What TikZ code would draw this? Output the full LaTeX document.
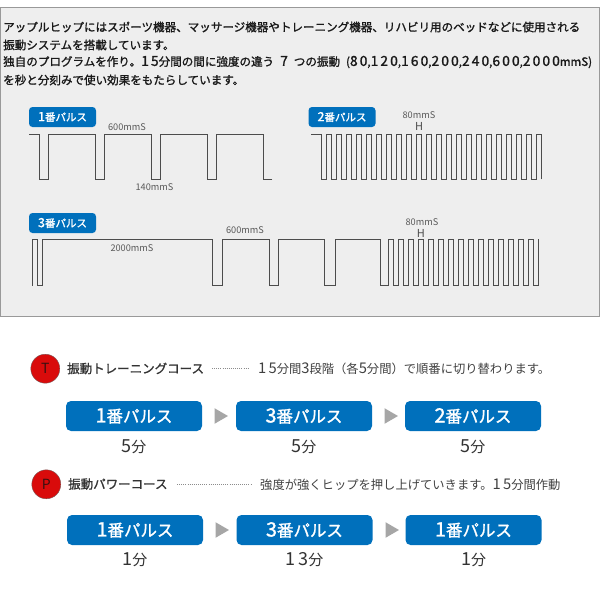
\documentclass[tikz,border=0pt]{standalone}
\usepackage{fontspec}
\setmainfont{Noto Sans CJK JP}
\newfontfamily\introfont[FakeBold=1.3]{Noto Sans CJK JP}
\makeatletter
\newcommand{\dg}[1]{{\fontsize{\strip@pt\dimexpr1.2\dimexpr\f@size pt\relax\relax}{\baselineskip}\selectfont\addfontfeature{LetterSpace=15}#1}}
\makeatother
\usetikzlibrary{positioning}
\usetikzlibrary{shapes.geometric}
\definecolor{panelgray}{HTML}{EEEEEE}
\definecolor{pulseblue}{HTML}{0070BC}
\definecolor{courseblk}{HTML}{333333}
\definecolor{badgered}{HTML}{D90B0B}
\definecolor{badgeink}{HTML}{3A1010}
\begin{document}
\begin{tikzpicture}[
        x=1pt, y=-1pt,
        panel/.style={draw=black!40, line width=1pt, fill=panelgray},
        wave/.style={draw=black!70, line width=0.9pt, line cap=rect},
        tagbox/.style={rectangle, rounded corners=3.5pt, fill=pulseblue, text=white, minimum width=67pt, minimum height=20pt, inner sep=0pt, font=\fontsize{10.5}{12}\selectfont\introfont},
        pulsebox/.style={rectangle, rounded corners=5pt, fill=pulseblue, text=white, minimum width=136pt, minimum height=30pt, inner sep=0pt, font=\fontsize{16.5}{18}\selectfont\introfont},
        mintext/.style={text=courseblk, inner sep=0pt, font=\fontsize{15}{17}\selectfont},
        nextmark/.style={regular polygon, regular polygon sides=3, shape border rotate=-90, fill=black!35, minimum size=18pt, inner sep=0pt},
        intro/.style={anchor=west, inner sep=0pt, text=black!90, font=\fontsize{11.55}{13}\selectfont\introfont},
        timing/.style={text=black!65, inner sep=0pt, font=\fontsize{9.2}{11}\selectfont},
        hmark/.style={text=black!70, inner sep=0pt, font=\fontsize{11}{13}\selectfont},
        badge/.style={circle, draw=badgeink!70, fill=badgered, text=badgeink, minimum size=29pt, inner sep=0pt, font=\fontsize{14}{16}\selectfont},
        coursename/.style={anchor=west, inner sep=0pt, text=courseblk, font=\fontsize{12.5}{14}\selectfont\introfont},
        coursenote/.style={anchor=west, inner sep=0pt, text=black!75, font=\fontsize{12.3}{14}\selectfont},
        leader/.style={draw=black!45, line width=0.8pt, dash pattern=on 0.9pt off 1.2pt},
        ]
    \useasboundingbox (0,0) rectangle (600,600);
    \draw[panel] (0.5,7) rectangle (599.5,316);

    \node[intro] (line1) at (3,27) {アップルヒップにはスポーツ機器、マッサージ機器やトレーニング機器、リハビリ用のベッドなどに使用される};
    \node[intro] (line2) at (3,45) {振動システムを搭載しています。};
    \node[intro] (line3) at (3,62) {独自のプログラムを作り。\dg{15}分間の間に強度の違う\kern6pt\dg{7}\kern6pt つの振動\kern6pt(\dg{80},\dg{120},\dg{160},\dg{200},\dg{240},\dg{600},\dg{2000}mmS)};
    \node[intro] (line4) at (3,80) {を秒と分刻みで使い効果をもたらしています。};

    % 1番パルス
    \node[tagbox] (tag1) at (62.5,117) {\dg{1}番パルス};
    \draw[wave] (29,134) -- (39,134) -- (39,179) -- (48,179) -- (48,134)
        -- (95,134) -- (95,179) -- (104,179) -- (104,134)
        -- (151,134) -- (151,179) -- (160,179) -- (160,134)
        -- (207,134) -- (207,179) -- (216,179) -- (216,134)
        -- (263,134) -- (263,179) -- (272,179);
    \node[timing] (long1) at (127,127) {600mmS};
    \node[timing] (short1) at (154.5,187) {140mmS};

    % 2番パルス
    \node[tagbox] (tag2) at (342,117) {\dg{2}番パルス};
    \draw[wave] (311,134) -- (321.3,134);
    \foreach \k in {0,...,21}
        \draw[wave] ({321.3+10*\k},134) -- ({321.3+10*\k},179) -- ({326.3+10*\k},179) -- ({326.3+10*\k},134) -- ({331.3+10*\k},134);
    \draw[wave] (541.3,134) -- (541.3,179);
    \node[timing] (fast2) at (419,115) {80mmS};
    \node[hmark] (mark2) at (419,126.5) {H};

    % 3番パルス
    \node[tagbox] (tag3) at (62.5,223) {\dg{3}番パルス};
    \draw[wave] (32,285.5) -- (32,239.5) -- (37,239.5) -- (37,285.5) -- (42,285.5) -- (42,239.5)
        -- (212.5,239.5) -- (212.5,285) -- (222.5,285) -- (222.5,239.5)
        -- (269,239.5) -- (269,285.5) -- (278,285.5) -- (278,239.5)
        -- (324.5,239.5) -- (324.5,285.5) -- (335.5,285.5) -- (335.5,239.5)
        -- (380.5,239.5) -- (380.5,285.5) -- (388.7,285.5) -- (388.7,239.5) -- (393.7,239.5);
    \foreach \k in {0,...,14}
        \draw[wave] ({393.7+10*\k},239.5) -- ({393.7+10*\k},285.5) -- ({398.7+10*\k},285.5) -- ({398.7+10*\k},239.5);
    \foreach \k in {0,...,13}
        \draw[wave] ({398.7+10*\k},239.5) -- ({403.7+10*\k},239.5);
    \node[timing] (long3) at (132,248) {2000mmS};
    \node[timing] (mid3) at (245,230) {600mmS};
    \node[timing] (fast3) at (422,222) {80mmS};
    \node[hmark] (mark3) at (421,233) {H};

    % トレーニングコース
    \node[badge] (badgeT) at (45.3,368.7) {T};
    \node[coursename] (nameT) at (67,368.5) {振動トレーニングコース};
    \coordinate (dotsT) at (212,368.5);
    \coordinate (dotsTend) at (248,368.5);
    \draw[leader] (dotsT) -- (dotsTend);
    \node[coursenote] (noteT) at (258,369) {\dg{15}分間\dg{3}段階（各\dg{5}分間）で順番に切り替わります。};

    \node[pulsebox] (t1) at (134,416) {\dg{1}番パルス};
    \node[pulsebox] (t2) at (304,416) {\dg{3}番パルス};
    \node[pulsebox] (t3) at (473,416) {\dg{2}番パルス};
    \node[nextmark] (t12) at (219,416) {};
    \node[nextmark] (t23) at (389,416) {};
    \node[mintext, below=8pt of t1] (tm1) {\dg{5}分};
    \node[mintext, below=8pt of t2] (tm2) {\dg{5}分};
    \node[mintext, below=8pt of t3] (tm3) {\dg{5}分};

    % パワーコース
    \node[badge] (badgeP) at (46.3,484.3) {P};
    \node[coursename] (nameP) at (68,484) {振動パワーコース};
    \coordinate (dotsP) at (177,484);
    \coordinate (dotsPend) at (251,484);
    \draw[leader] (dotsP) -- (dotsPend);
    \node[coursenote] (noteP) at (260,485) {強度が強くヒップを押し上げていきます。\dg{15}分間作動};

    \node[pulsebox] (p1) at (135,530) {\dg{1}番パルス};
    \node[pulsebox] (p2) at (304.5,530) {\dg{3}番パルス};
    \node[pulsebox] (p3) at (473.5,530) {\dg{1}番パルス};
    \node[nextmark] (p12) at (220,530) {};
    \node[nextmark] (p23) at (390,530) {};
    \node[mintext, below=7pt of p1] (pm1) {\dg{1}分};
    \node[mintext, below=7pt of p2] (pm2) {\dg{13}分};
    \node[mintext, below=7pt of p3] (pm3) {\dg{1}分};
\end{tikzpicture}
\end{document}
